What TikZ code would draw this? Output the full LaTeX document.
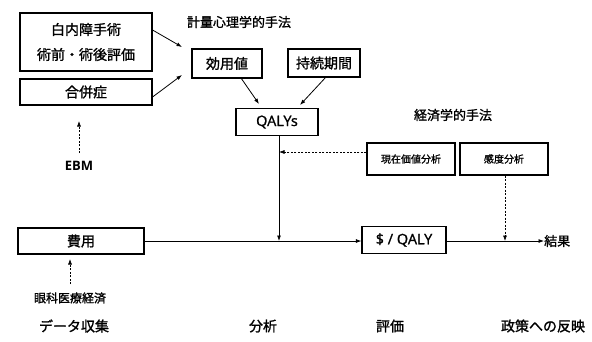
\documentclass[tikz,border=0pt]{standalone}
\usepackage{fontspec}
\setmainfont{Noto Sans CJK JP}[BoldFont=Noto Sans CJK JP, BoldFeatures={FakeBold=1.3}]
\newfontfamily\latf{Open Sans}[BoldFont=Open Sans, BoldFeatures={FakeBold=1.2}]
\newfontfamily\latb{Open Sans Bold}
\usetikzlibrary{arrows.meta,calc}
\begin{document}
\begin{tikzpicture}[x=1bp,y=-1bp,
  box/.style={draw, line width=1.1bp, inner sep=0pt, align=center},
  lbl/.style={inner sep=0pt},
  arr/.style={line width=0.8bp, -{Latex[length=5.5bp,width=4bp]}},
  darr/.style={arr, dash pattern=on 2bp off 1.5bp, line width=0.6bp}]
\useasboundingbox (0,0) rectangle (592,341);
% boxes
\node[box, minimum width=132bp, minimum height=58bp, font=\fontsize{14bp}{25bp}\selectfont\bfseries] (cat) at (86,42) {白内障手術\\術前・術後評価};
\node[box, minimum width=132bp, minimum height=26bp, font=\fontsize{14bp}{16bp}\selectfont\bfseries] (comp) at (86,92) {合併症};
\node[box, minimum width=70bp, minimum height=29bp, font=\fontsize{14bp}{16bp}\selectfont\bfseries] (util) at (227,63.5) {効用値};
\node[box, minimum width=72bp, minimum height=28bp, font=\fontsize{14bp}{16bp}\selectfont\bfseries] (dur) at (324,63) {持続期間};
\node[box, minimum width=82bp, minimum height=27bp, font=\latf\fontsize{14.5bp}{16bp}\selectfont\bfseries] (qaly) at (277,122) {QALYs};
\node[box, minimum width=88bp, minimum height=32bp, font=\fontsize{10bp}{12bp}\selectfont\bfseries] (pv) at (411,159) {\raisebox{-5bp}{現在価値分析}};
\node[box, minimum width=88bp, minimum height=32bp, font=\fontsize{10bp}{12bp}\selectfont\bfseries] (sens) at (504,159) {\raisebox{-5bp}{感度分析}};
\node[box, minimum width=126bp, minimum height=26bp, font=\fontsize{14bp}{16bp}\selectfont\bfseries] (cost) at (81,241) {費用};
\node[box, minimum width=84bp, minimum height=27bp, font=\latf\fontsize{14.5bp}{16bp}\selectfont\bfseries] (cq) at (404,240) {\$ / QALY};
% labels
\node[lbl, font=\fontsize{13bp}{15bp}\selectfont\bfseries] (psy) at (239,22) {計量心理学的手法};
\node[lbl, font=\fontsize{13bp}{15bp}\selectfont\bfseries] (eco) at (453,115) {経済学的手法};
\node[lbl, font=\latb\fontsize{13bp}{15bp}\selectfont] (ebm) at (79,166) {EBM};
\node[lbl, font=\fontsize{12bp}{14bp}\selectfont\bfseries] (oph) at (70,298) {眼科医療経済};
\node[lbl, font=\fontsize{13bp}{15bp}\selectfont\bfseries, anchor=west] (res) at (544,241) {結果};
\node[lbl, font=\fontsize{14bp}{16bp}\selectfont\bfseries] (s1) at (74,326) {データ収集};
\node[lbl, font=\fontsize{14bp}{16bp}\selectfont\bfseries] (s2) at (263,326) {分析};
\node[lbl, font=\fontsize{14bp}{16bp}\selectfont\bfseries] (s3) at (390,326) {評価};
\node[lbl, font=\fontsize{14bp}{16bp}\selectfont\bfseries] (s4) at (543,326) {政策への反映};
% coordinates
\coordinate (j1) at (279,241);
\coordinate (j2) at (279,152);
\coordinate (j3) at (505,241);
% connectors
\draw[arr] (cat.east |- 0,30) -- (182,47);
\draw[arr] (comp.east |- 0,97) -- (182,75);
\draw[arr] (241,78) -- (259,104);
\draw[arr] (326,77) -- (300,105);
\draw[darr] (ebm.north) ++(0,-8) -- (79,121);
\draw[darr] (oph.north) ++(0,-8) -- (70,259);
\draw[arr] (qaly.south -| j1) -- (j1);
\draw[darr] (pv.west |- j2) -- (j2);
\draw[darr] (sens.south -| j3) -- (j3);
\draw[arr] (cost.east) -- (cq.west |- cost.east);
\draw[arr] (cq.east |- j1) -- (res.west);
\end{tikzpicture}
\end{document}
